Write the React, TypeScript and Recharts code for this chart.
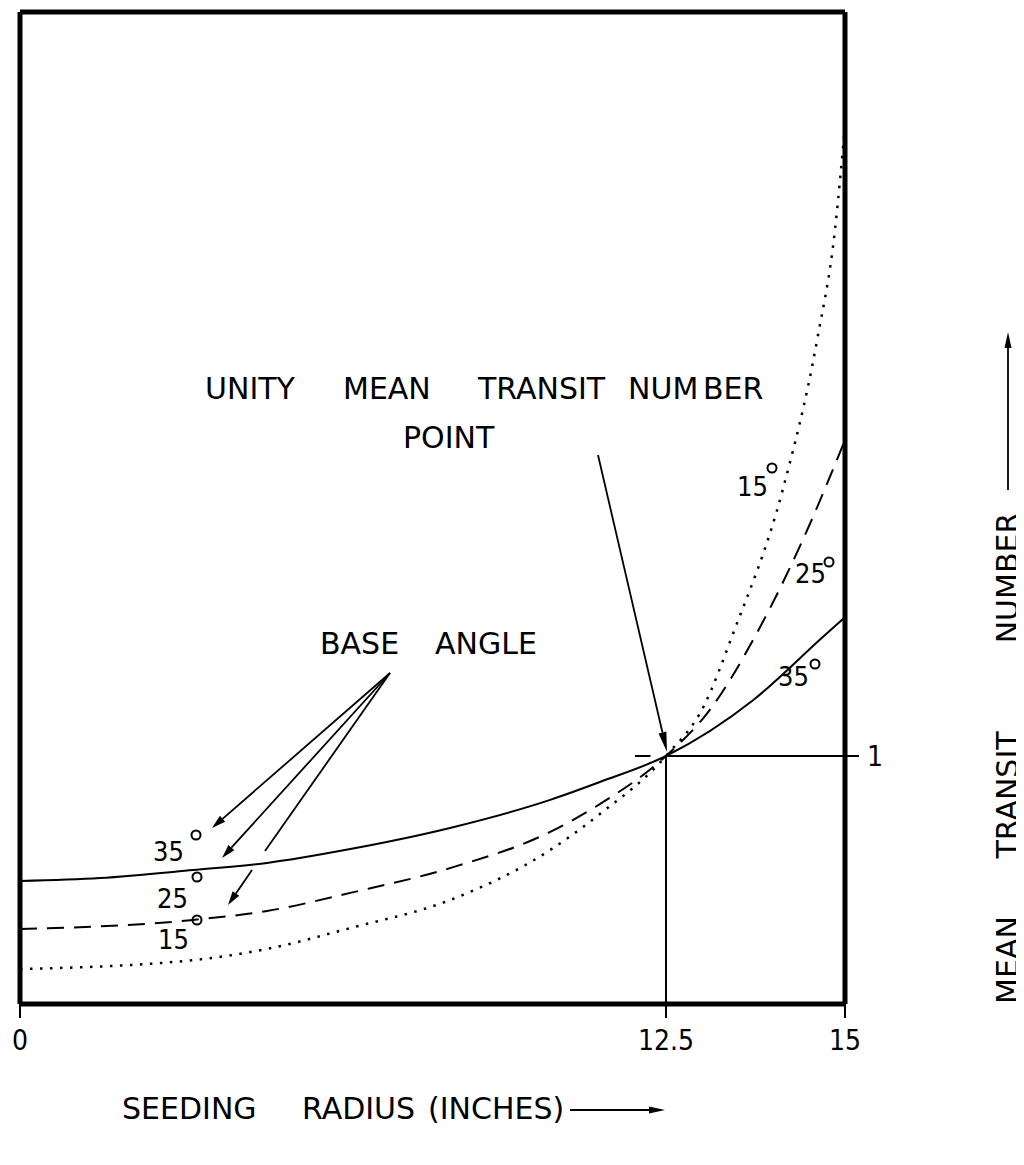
import React from 'react';
import { LineChart, Line, XAxis, YAxis, ReferenceLine } from 'recharts';

// seeding radius (inches) and mean transit number
const radius35 = [0, 1.55, 3.35, 4.78, 6.39, 8.32, 10.26, 11.22, 12.5, 13.72, 14.69, 15];
const transit35 = [0.496, 0.508, 0.54, 0.569, 0.625, 0.71, 0.823, 0.895, 1.0, 1.226, 1.48, 1.56];

const radius25 = [0, 3.35, 4.78, 6.39, 8.32, 10.26, 11.22, 12.5, 13.11, 13.77, 14.41, 15];
const transit25 = [0.302, 0.339, 0.375, 0.448, 0.548, 0.694, 0.806, 1.0, 1.185, 1.496, 1.871, 2.274];

const radius15 = [0, 3.35, 4.78, 6.39, 8.32, 10.26, 11.22, 12.5, 13.03, 13.44, 14.13, 14.61, 14.86, 15];
const transit15 = [0.141, 0.177, 0.222, 0.306, 0.419, 0.621, 0.766, 1.0, 1.202, 1.496, 2.073, 2.677, 3.121, 3.544];

const xTicks = [0, 12.5, 15];
const yTicks = [1];
const unityRadius = 12.5;
const unityTransit = 1;

const toPoints = (xs: number[], ys: number[]) => xs.map((r, i) => ({ r, v: ys[i] }));

const curves = [
  { key: '35', data: toPoints(radius35, transit35), dash: undefined, width: 2 },
  { key: '25', data: toPoints(radius25, transit25), dash: '17 10', width: 2 },
  { key: '15', data: toPoints(radius15, transit15), dash: '2.5 7.5', width: 2.5 },
];

// the radius axis of the original is not drawn to scale: 12.5 sits at ~78% of the width
const radiusBreaks = [0, 12.5, 15];
const radiusStops = [0, 0.783, 1];

function schematicScale(): any {
  let dom: number[] = [0, 15];
  let rng: number[] = [0, 1];
  const frac = (v: number) => {
    for (let i = 1; i < radiusBreaks.length; i++) {
      if (v <= radiusBreaks[i] || i === radiusBreaks.length - 1) {
        const a = radiusBreaks[i - 1];
        const b = radiusBreaks[i];
        return radiusStops[i - 1] + ((v - a) / (b - a)) * (radiusStops[i] - radiusStops[i - 1]);
      }
    }
    return 0;
  };
  const scale: any = (v: number) => rng[0] + frac(Number(v)) * (rng[rng.length - 1] - rng[0]);
  scale.domain = (d?: any[]) => {
    if (d === undefined) return dom.slice();
    dom = d.map(Number);
    return scale;
  };
  scale.range = (r?: any[]) => {
    if (r === undefined) return rng.slice();
    rng = r.map(Number);
    return scale;
  };
  scale.copy = () => schematicScale().domain(dom).range(rng);
  scale.ticks = () => xTicks.slice();
  scale.tickFormat = () => (v: number) => String(v);
  scale.nice = () => scale;
  scale.clamp = () => scale;
  scale.invert = (px: number) => {
    const f = (px - rng[0]) / (rng[rng.length - 1] - rng[0]);
    for (let i = 1; i < radiusStops.length; i++) {
      if (f <= radiusStops[i] || i === radiusStops.length - 1) {
        const a = radiusStops[i - 1];
        const b = radiusStops[i];
        return radiusBreaks[i - 1] + ((f - a) / (b - a)) * (radiusBreaks[i] - radiusBreaks[i - 1]);
      }
    }
    return 0;
  };
  return scale;
}

const radiusScale = schematicScale();

const word = "'DejaVu Sans', sans-serif";
const digits = "'Liberation Sans Narrow', 'DejaVu Sans Condensed', 'DejaVu Sans', sans-serif";

function Arrow({ x1, y1, x2, y2, len = 14, half = 4 }: { x1: number; y1: number; x2: number; y2: number; len?: number; half?: number }) {
  const dx = x2 - x1;
  const dy = y2 - y1;
  const d = Math.hypot(dx, dy);
  const ux = dx / d;
  const uy = dy / d;
  const bx = x2 - ux * len;
  const by = y2 - uy * len;
  return (
    <g>
      <line x1={x1} y1={y1} x2={bx} y2={by} stroke="#000" strokeWidth={1.8} />
      <polygon
        points={`${x2},${y2} ${bx - uy * half},${by + ux * half} ${bx + uy * half},${by - ux * half}`}
        fill="#000"
      />
    </g>
  );
}

function Annotations() {
  const big = { fontFamily: word, fontSize: 30, fill: '#000' };
  const num = { fontFamily: digits, fontSize: 27, fill: '#000' };
  return (
    <svg
      width={1016}
      height={1140}
      style={{ position: 'absolute', left: 0, top: 0, pointerEvents: 'none', overflow: 'visible' }}
    >
      <g transform="translate(-8,-8)">
        <text x={205} y={399} {...big}>UNITY</text>
        <text x={343} y={399} {...big}>MEAN</text>
        <text x={478} y={399} {...big}>TRANSIT</text>
        <text x={628} y={399} {...big}>NUM</text>
        <text x={703} y={399} {...big}>BER</text>
        <text x={403} y={448} {...big}>POINT</text>
        <Arrow x1={598} y1={455} x2={667} y2={752} len={20} half={4} />

        <text x={320} y={654} {...big}>BASE</text>
        <text x={435} y={654} {...big}>ANGLE</text>
        <Arrow x1={390} y1={673} x2={212} y2={828} />
        <Arrow x1={390} y1={673} x2={222} y2={858} />
        <line x1={390} y1={673} x2={265} y2={851} stroke="#000" strokeWidth={1.8} />
        <Arrow x1={252} y1={870} x2={228} y2={905} />

        <text x={153} y={861} {...num}>35</text>
        <circle cx={196} cy={835} r={4.5} fill="none" stroke="#000" strokeWidth={2} />
        <text x={157} y={908} {...num}>25</text>
        <circle cx={197} cy={877} r={4.5} fill="none" stroke="#000" strokeWidth={2} />
        <text x={158} y={949} {...num}>15</text>
        <circle cx={197} cy={920} r={4.5} fill="none" stroke="#000" strokeWidth={2} />

        <text x={737} y={496} {...num}>15</text>
        <circle cx={772} cy={468} r={4.5} fill="none" stroke="#000" strokeWidth={2} />
        <text x={795} y={583} {...num}>25</text>
        <circle cx={829} cy={562} r={4.5} fill="none" stroke="#000" strokeWidth={2} />
        <text x={778} y={686} {...num}>35</text>
        <circle cx={815} cy={664} r={4.5} fill="none" stroke="#000" strokeWidth={2} />

        <text x={1018} y={960} {...big} textAnchor="middle" transform="rotate(-90 1018 960)">MEAN</text>
        <text x={1018} y={795} {...big} textAnchor="middle" transform="rotate(-90 1018 795)">TRANSIT</text>
        <text x={1018} y={578} {...big} textAnchor="middle" transform="rotate(-90 1018 578)">NUMBER</text>
        <Arrow x1={1008} y1={490} x2={1008} y2={332} len={16} half={3.5} />

        <text x={122} y={1119} {...big}>SEEDING</text>
        <text x={302} y={1119} {...big}>RADIUS</text>
        <text x={428} y={1119} {...big}>(INCHES)</text>
        <Arrow x1={570} y1={1110} x2={665} y2={1110} len={16} half={3.5} />
      </g>
    </svg>
  );
}

export default function App() {
  return (
    <div style={{ position: 'relative', width: 1000, height: 1140, background: '#fff' }}>
      <LineChart width={1000} height={1140} margin={{ top: 3, right: 103, bottom: 84, left: 11 }}>
        <XAxis
          xAxisId="r"
          dataKey="r"
          type="number"
          domain={[0, 15]}
          scale={radiusScale}
          ticks={xTicks}
          allowDataOverflow
          height={60}
          axisLine={{ stroke: '#000', strokeWidth: 5 }}
          tickLine={{ stroke: '#000', strokeWidth: 2 }}
          tickSize={14}
          tickMargin={12}
          tick={{ fill: '#000', fontSize: 28, fontFamily: digits }}
        />
        <XAxis xAxisId="top" orientation="top" type="number" domain={[0, 15]} height={1} tick={false} tickLine={false} axisLine={{ stroke: '#000', strokeWidth: 5 }} />
        <YAxis yAxisId="frame" orientation="left" type="number" domain={[0, 4]} width={1} tick={false} tickLine={false} axisLine={{ stroke: '#000', strokeWidth: 5 }} />
        <YAxis
          yAxisId="v"
          orientation="right"
          type="number"
          domain={[0, 4]}
          ticks={yTicks}
          allowDataOverflow
          width={60}
          axisLine={{ stroke: '#000', strokeWidth: 5 }}
          tickLine={{ stroke: '#000', strokeWidth: 2 }}
          tickSize={14}
          tickMargin={8}
          tick={{ fill: '#000', fontSize: 28, fontFamily: digits }}
        />
        <ReferenceLine
          xAxisId="r"
          yAxisId="v"
          segment={[{ x: unityRadius, y: 0 }, { x: unityRadius, y: unityTransit }]}
          stroke="#000"
          strokeWidth={2}
        />
        <ReferenceLine
          xAxisId="r"
          yAxisId="v"
          segment={[{ x: unityRadius, y: unityTransit }, { x: 15, y: unityTransit }]}
          stroke="#000"
          strokeWidth={2}
        />
        <ReferenceLine
          xAxisId="r"
          yAxisId="v"
          segment={[{ x: 11.9, y: unityTransit }, { x: 12.2, y: unityTransit }]}
          stroke="#000"
          strokeWidth={2}
        />
        {curves.map((c) => (
          <Line
            key={c.key}
            xAxisId="r"
            yAxisId="v"
            data={c.data}
            dataKey="v"
            type="monotone"
            stroke="#000"
            strokeWidth={c.width}
            strokeDasharray={c.dash}
            dot={false}
            activeDot={false}
            isAnimationActive={false}
          />
        ))}
      </LineChart>
      <Annotations />
    </div>
  );
}
